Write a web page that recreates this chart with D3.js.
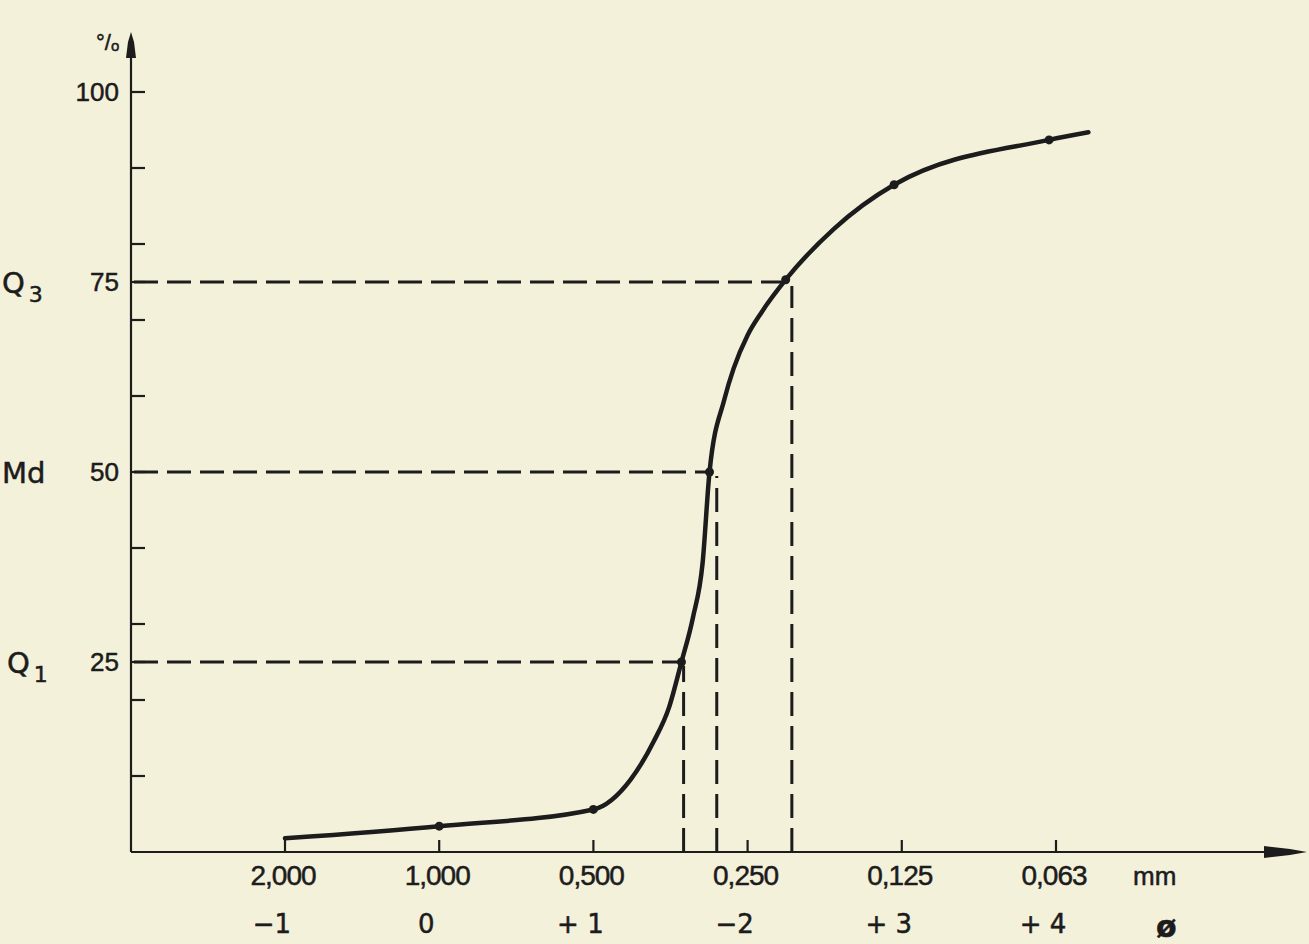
<!DOCTYPE html>
<html>
<head>
<meta charset="utf-8">
<script src="https://cdn.jsdelivr.net/npm/d3@7"></script>
<style>
  html, body { margin: 0; padding: 0; background: #f4f1db; }
  svg { display: block; }
  text { fill: #1c1c1c; stroke: #1c1c1c; stroke-width: 0.5; }
</style>
</head>
<body>
<svg></svg>
<script>
// Grain size classes (phi) with their mm labels
var phiTicks = [-1, 0, 1, 2, 3, 4];
var mmLabels = ["2,000", "1,000", "0,500", "0,250", "0,125", "0,063"];
var phiLabels = ["\u22121", "0", "+ 1", "\u22122", "+ 3", "+ 4"];

// Cumulative curve (phi, %)
var curvePhi = [-1, 0, 1, 1.24, 1.39, 1.49, 1.571, 1.645, 1.708, 1.753, 1.85, 1.909, 2.0, 2.09, 2.247, 2.56, 2.95, 3.955, 4.21];
var curvePct = [1.8, 3.4, 5.6, 9.5, 14.5, 19.0, 25, 30.8, 38, 50, 59.6, 63.6, 68.0, 71.0, 75.3, 82.0, 87.8, 93.7, 94.7];

// Plotted sample points (phi, %)
var dotPhi = [0, 1, 1.571, 1.753, 2.247, 2.95, 3.955];
var dotPct = [3.4, 5.6, 25, 50, 75.3, 87.8, 93.7];

// Quartiles
var qNames = ["Q", "Md", "Q"];
var qSubs = ["1", "", "3"];
var qPct = [25, 50, 75];
var qPhiDot = [1.571, 1.753, 2.247];
var qPhiDrop = [1.585, 1.80, 2.287];

var yTicks = [10, 20, 25, 30, 40, 50, 60, 70, 75, 80, 90, 100];
var yLabels = [25, 50, 75, 100];

var width = 1309, height = 944;
var ink = "#1c1c1c";
var svg = d3.select("svg").attr("width", width).attr("height", height);

var x = d3.scaleLinear().domain([-1, 4]).range([285, 1056]);
var y = d3.scaleLinear().domain([0, 100]).range([852, 92]);
var x0 = 131;

// dashed guide lines for the quartiles
qPct.forEach(function(p, i) {
  svg.append("line")
    .attr("x1", x0 + 3).attr("y1", y(p))
    .attr("x2", x(qPhiDot[i])).attr("y2", y(p))
    .attr("stroke", ink).attr("stroke-width", 3)
    .attr("stroke-dasharray", "24,9");
  svg.append("line")
    .attr("x1", x(qPhiDrop[i])).attr("y1", y(0))
    .attr("x2", x(qPhiDrop[i])).attr("y2", y(p) + 4)
    .attr("stroke", ink).attr("stroke-width", 3)
    .attr("stroke-dasharray", "24,10");
});

// axes
svg.append("line")
  .attr("x1", x0).attr("y1", y(0)).attr("x2", x0).attr("y2", 50)
  .attr("stroke", ink).attr("stroke-width", 2.2);
svg.append("path")
  .attr("d", "M" + (x0 - 5) + ",58 L" + (x0 - 3) + ",42 L" + x0 + ",32 L" + (x0 + 3) + ",42 L" + (x0 + 5) + ",58 Z")
  .attr("fill", ink);

svg.append("line")
  .attr("x1", x0).attr("y1", y(0)).attr("x2", 1270).attr("y2", y(0))
  .attr("stroke", ink).attr("stroke-width", 2.2);
svg.append("path")
  .attr("d", "M1264," + (y(0) - 6) + " L1290," + (y(0) - 3) + " L1307," + y(0) + " L1290," + (y(0) + 3) + " L1264," + (y(0) + 6) + " Z")
  .attr("fill", ink);

// y ticks
svg.selectAll(".ytick")
  .data(yTicks)
  .enter()
  .append("line")
    .attr("class", "ytick")
    .attr("x1", x0).attr("x2", x0 + 14)
    .attr("y1", function(d) { return y(d); })
    .attr("y2", function(d) { return y(d); })
    .attr("stroke", ink).attr("stroke-width", 2.2);

svg.selectAll(".ylabel")
  .data(yLabels)
  .enter()
  .append("text")
    .attr("class", "ylabel")
    .attr("x", 119)
    .attr("y", function(d) { return y(d) + 9; })
    .attr("text-anchor", "end")
    .attr("font-family", "Liberation Sans, Arial, sans-serif")
    .attr("font-size", 26)
    .text(function(d) { return d; });

svg.append("text")
  .attr("x", 96).attr("y", 50)
  .attr("font-family", "Liberation Sans, Arial, sans-serif")
  .attr("font-size", 22)
  .text("\u00b0/\u2092");

// quartile names
qPct.forEach(function(p, i) {
  var t = svg.append("text")
    .attr("x", qSubs[i] == "1" ? 7 : 2)
    .attr("y", y(p) + 11)
    .attr("font-family", "DejaVu Sans, sans-serif")
    .attr("font-size", 29)
    .text(qNames[i]);
  if (qSubs[i]) {
    t.append("tspan")
      .attr("dx", 4).attr("dy", 9)
      .attr("font-size", 22)
      .text(qSubs[i]);
  }
});

// x ticks
svg.selectAll(".xtick")
  .data(phiTicks)
  .enter()
  .append("line")
    .attr("class", "xtick")
    .attr("x1", function(d) { return x(d); })
    .attr("x2", function(d) { return x(d); })
    .attr("y1", y(0))
    .attr("y2", function(d) { return d == -1 ? y(curvePct[0]) : y(0) - 12; })
    .attr("stroke", ink).attr("stroke-width", 2.2);

svg.selectAll(".mm")
  .data(phiTicks)
  .enter()
  .append("text")
    .attr("class", "mm")
    .attr("x", function(d) { return x(d) - 2; })
    .attr("y", 885)
    .attr("text-anchor", "middle")
    .attr("font-family", "Liberation Sans Narrow, Liberation Sans, sans-serif")
    .attr("font-size", 28)
    .attr("letter-spacing", -1)
    .text(function(d, i) { return mmLabels[i]; });

svg.selectAll(".phi")
  .data(phiTicks)
  .enter()
  .append("text")
    .attr("class", "phi")
    .attr("x", function(d) { return x(d) - 13; })
    .attr("y", 933)
    .attr("text-anchor", "middle")
    .attr("font-family", "DejaVu Sans, sans-serif")
    .attr("font-size", 26)
    .text(function(d, i) { return phiLabels[i]; });

svg.append("text")
  .attr("x", 1133).attr("y", 885)
  .attr("font-family", "Liberation Sans, sans-serif")
  .attr("font-size", 26)
  .text("mm");
svg.append("text")
  .attr("x", 1156).attr("y", 937)
  .attr("font-family", "DejaVu Sans, sans-serif")
  .attr("font-size", 30)
  .attr("font-weight", "bold")
  .text("\u00f8");

// the cumulative curve
var pts = curvePhi.map(function(p, i) { return [p, curvePct[i]]; });
var line = d3.line()
  .x(function(d) { return x(d[0]); })
  .y(function(d) { return y(d[1]); })
  .curve(d3.curveMonotoneX);

svg.append("path")
  .datum(pts)
  .attr("d", line)
  .attr("fill", "none")
  .attr("stroke", ink)
  .attr("stroke-width", 4.5)
  .attr("stroke-linecap", "round");

svg.selectAll(".dot")
  .data(dotPhi)
  .enter()
  .append("circle")
    .attr("class", "dot")
    .attr("cx", function(d) { return x(d); })
    .attr("cy", function(d, i) { return y(dotPct[i]); })
    .attr("r", 4.5)
    .attr("fill", ink);
</script>
</body>
</html>
